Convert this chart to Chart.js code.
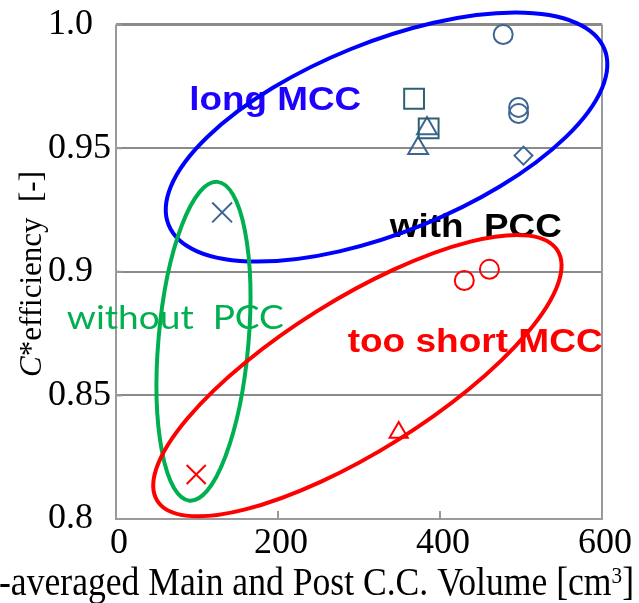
<!DOCTYPE html>
<html lang="en">
  <head>
    <meta charset="utf-8" />
    <title>C* efficiency vs volume</title>
    <style>
      * {
        margin: 0;
        padding: 0;
      }
      body {
        background: #fff;
      }
      .chartBox {
        width: 639px;
        height: 603px;
      }
    </style>
  </head>
  <body>
    <div class="chartBox">
      <canvas id="myChart" width="639" height="603"></canvas>
    </div>

    <script src="https://cdn.jsdelivr.net/npm/chart.js@4.4.0/dist/chart.umd.min.js"></script>

    <script>
      // x: volume [cm3], y: C* efficiency [-]
      const longCircleX = [478, 497, 497];
      const longCircleY = [0.996, 0.9665, 0.964];
      const longSquareX = [368, 386];
      const longSquareY = [0.97, 0.958];
      const longTriangleX = [384, 373];
      const longTriangleY = [0.958, 0.95];
      const longDiamondX = [503];
      const longDiamondY = [0.947];
      const noPccX = [131];
      const noPccY = [0.924];
      const shortCircleX = [430, 461];
      const shortCircleY = [0.8965, 0.901];
      const shortTriangleX = [349];
      const shortTriangleY = [0.835];
      const shortCrossX = [99];
      const shortCrossY = [0.818];

      const xTicks = [0, 200, 400, 600];
      const yTicks = [0.8, 0.85, 0.9, 0.95, 1.0];
      const yTickLabels = ["0.8", "0.85", "0.9", "0.95", "1.0"];

      const pts = (xs, ys) => xs.map((x, i) => ({ x: x, y: ys[i] }));

      const blueMark = "#3d6591";
      const tealMark = "#2d6070";
      const red = "#ff0000";

      function series(xs, ys, style, radius, color) {
        return {
          data: pts(xs, ys),
          pointStyle: style,
          pointRadius: radius,
          pointBorderWidth: 2,
          borderColor: color,
          backgroundColor: "transparent",
          showLine: false,
          clip: false,
        };
      }

      // group outlines: centre in data units, radii in px, angle in degrees
      const ellipses = [
        { cx: 334, cy: 0.9545, rx: 235, ry: 95, angle: -22, color: "#0000ff" },
        { cx: 108, cy: 0.8719, rx: 160, ry: 45, angle: -85, color: "#00b050" },
        { cx: 298, cy: 0.858, rx: 236, ry: 76, angle: -32, color: "#ff0000" },
      ];

      const notes = [
        { text: "long MCC", x: 90.4, y: 0.9656, w: 172, font: 'bold 34px "Liberation Sans"', color: "#1e00ff" },
        { text: "with  PCC", x: 338, y: 0.914, w: 172, font: 'bold 34px "Liberation Sans"', color: "#000" },
        { text: "without  PCC", x: -60.7, y: 0.8767, w: 217, font: '33px Lato', color: "#00b050" },
        { text: "too short MCC", x: 286, y: 0.8675, w: 255, font: 'bold 34px "Liberation Sans"', color: "#ff0000" },
      ];

      const frame = {
        id: "frame",
        afterDatasetsDraw(chart) {
          const { ctx, chartArea, scales } = chart;
          const { left, right, top, bottom } = chartArea;
          ctx.save();
          ctx.strokeStyle = "#9a9a9a";
          ctx.lineWidth = 2;
          ctx.beginPath();
          ctx.moveTo(left, top);
          ctx.lineTo(left, bottom);
          ctx.lineTo(right, bottom);
          ctx.lineTo(right, top);
          ctx.stroke();
          // inward tick marks
          ctx.beginPath();
          yTicks.forEach((v) => {
            const y = scales.y.getPixelForValue(v);
            ctx.moveTo(left, y);
            ctx.lineTo(left + 6, y);
          });
          xTicks.forEach((v) => {
            const x = scales.x.getPixelForValue(v);
            ctx.moveTo(x, bottom);
            ctx.lineTo(x, bottom - 8);
          });
          ctx.stroke();

          // notes
          ctx.textBaseline = "alphabetic";
          ctx.textAlign = "left";
          notes.forEach((n) => {
            ctx.save();
            ctx.font = n.font;
            ctx.fillStyle = n.color;
            const x = scales.x.getPixelForValue(n.x);
            const y = scales.y.getPixelForValue(n.y);
            const k = n.w / ctx.measureText(n.text).width;
            ctx.translate(x, y);
            ctx.scale(k, 1);
            ctx.fillText(n.text, 0, 0);
            ctx.restore();
          });

          // group outlines
          ctx.lineWidth = 4;
          ellipses.forEach((e) => {
            ctx.strokeStyle = e.color;
            ctx.beginPath();
            ctx.ellipse(
              scales.x.getPixelForValue(e.cx),
              scales.y.getPixelForValue(e.cy),
              e.rx,
              e.ry,
              (e.angle * Math.PI) / 180,
              0,
              Math.PI * 2
            );
            ctx.stroke();
          });
          ctx.restore();
        },
      };

      const axisTitles = {
        id: "axisTitles",
        afterDraw(chart) {
          const { ctx } = chart;
          ctx.save();
          ctx.fillStyle = "#000";
          ctx.textBaseline = "alphabetic";
          ctx.textAlign = "left";

          // y title, rotated
          ctx.save();
          ctx.translate(41, 274);
          ctx.rotate(-Math.PI / 2);
          ctx.font = 'italic 31px "Liberation Serif"';
          const wc = ctx.measureText("C").width;
          ctx.font = '31px "Liberation Serif"';
          const rest = "*efficiency  [-]";
          const wr = ctx.measureText(rest).width;
          const start = -(wc + wr) / 2;
          ctx.font = 'italic 31px "Liberation Serif"';
          ctx.fillText("C", start, 0);
          ctx.font = '31px "Liberation Serif"';
          ctx.fillText(rest, start + wc, 0);
          ctx.restore();

          // x title, right end near the canvas edge, start cut off on the left
          const main = "Time-averaged Main and Post C.C. Volume [cm";
          const seen = "-averaged Main and Post C.C. Volume [cm";
          ctx.save();
          ctx.font = '32px "Liberation Serif"';
          const wb = ctx.measureText("]").width;
          const wSeen = ctx.measureText(seen).width;
          ctx.font = '19px "Liberation Serif"';
          const ws = ctx.measureText("3").width;
          const k = 635 / (wSeen + ws + wb);
          ctx.translate(634, 595);
          ctx.scale(k, 1.25);
          ctx.font = '32px "Liberation Serif"';
          ctx.fillText("]", -wb, 0);
          ctx.font = '19px "Liberation Serif"';
          ctx.fillText("3", -wb - ws, -10);
          ctx.font = '32px "Liberation Serif"';
          ctx.textAlign = "right";
          ctx.fillText(main, -wb - ws, 0);
          ctx.restore();
          ctx.restore();
        },
      };

      const config = {
        type: "scatter",
        data: {
          datasets: [
            series(longCircleX, longCircleY, "circle", 9.5, blueMark),
            series(longSquareX, longSquareY, "rect", 14, tealMark),
            series(longTriangleX, longTriangleY, "triangle", 11.5, blueMark),
            series(longDiamondX, longDiamondY, "rectRot", 9, blueMark),
            series(noPccX, noPccY, "crossRot", 14, blueMark),
            series(shortCircleX, shortCircleY, "circle", 9.5, red),
            series(shortTriangleX, shortTriangleY, "triangle", 10.5, red),
            series(shortCrossX, shortCrossY, "crossRot", 13.5, red),
          ],
        },
        options: {
          responsive: false,
          animation: false,
          layout: {
            padding: { left: 48, top: 24, right: 37, bottom: 0 },
          },
          plugins: {
            legend: { display: false },
            tooltip: { enabled: false },
          },
          scales: {
            x: {
              type: "linear",
              min: 0,
              max: 600,
              afterBuildTicks: (s) => {
                s.ticks = xTicks.map((v) => ({ value: v }));
              },
              afterFit: (s) => {
                s.height = 84;
              },
              grid: { display: false, drawTicks: false },
              border: { display: false },
              ticks: {
                font: { family: "Liberation Serif", size: 36 },
                color: "#000",
                padding: 3,
                maxRotation: 0,
                autoSkip: false,
                labelOffset: 3,
              },
            },
            y: {
              type: "linear",
              min: 0.8,
              max: 1.0,
              afterBuildTicks: (s) => {
                s.ticks = yTicks.map((v) => ({ value: v }));
              },
              afterFit: (s) => {
                s.width = 68;
              },
              grid: {
                color: "#8a8a8a",
                lineWidth: (c) => (c.tick && c.tick.value === 1 ? 3 : 2),
                drawTicks: false,
              },
              border: { display: false },
              ticks: {
                font: { family: "Liberation Serif", size: 36 },
                color: "#000",
                crossAlign: "far",
                autoSkip: false,
                callback: (v, i) => yTickLabels[i],
              },
            },
          },
        },
        plugins: [frame, axisTitles],
      };

      const myChart = new Chart(document.getElementById("myChart"), config);
    </script>
  </body>
</html>
